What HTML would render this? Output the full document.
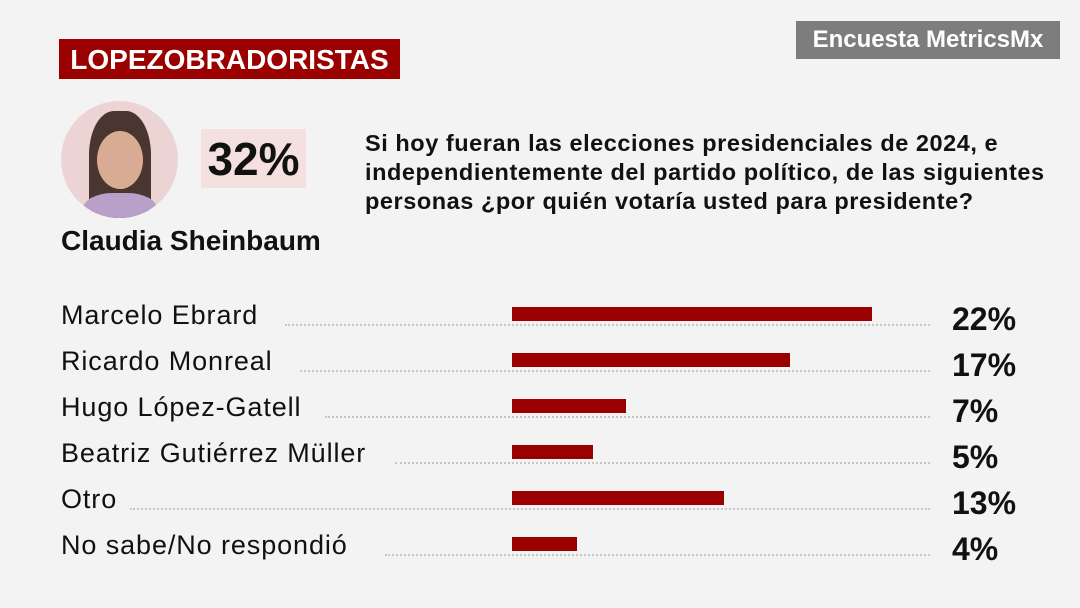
<!DOCTYPE html>
<html><head><meta charset="utf-8"><style>
body{margin:0;width:1080px;height:608px;background:#f3f3f3;position:relative;overflow:hidden;font-family:"Liberation Sans",sans-serif;color:#111}
.a{position:absolute}
.lbl{position:absolute;left:61px;font-size:27px;line-height:30px;letter-spacing:0.9px}
.dot{position:absolute;height:0;border-top:2px dotted #c8c8c8;right:150px}
.bar{position:absolute;left:512px;height:14px;background:#9b0000}
.pct{position:absolute;left:952px;font-size:32px;font-weight:bold;line-height:34px}
</style></head><body>
<div class="a" style="left:796px;top:21px;width:264px;height:38px;background:#7d7d7d;color:#fff;font-weight:bold;font-size:24px;line-height:38px;text-align:center">Encuesta MetricsMx</div>
<div class="a" style="left:59px;top:39px;width:341px;height:40px;background:#9b0000;color:#fff;font-weight:bold;font-size:28px;line-height:41px;text-align:center">LOPEZOBRADORISTAS</div>
<div class="a" style="left:61px;top:101px;width:117px;height:117px;border-radius:50%;background:#ecd4d4;overflow:hidden">
<div class="a" style="left:28px;top:10px;width:62px;height:110px;border-radius:40% 40% 20% 20%;background:#4a3630"></div>
<div class="a" style="left:36px;top:30px;width:46px;height:58px;border-radius:50%;background:#d9ab92"></div>
<div class="a" style="left:22px;top:92px;width:74px;height:40px;border-radius:40% 40% 0 0;background:#b8a0c8"></div>
</div>
<div class="a" style="left:201px;top:129px;width:105px;height:59px;background:#f5e0e0;font-size:46px;font-weight:bold;line-height:60px;text-align:center">32%</div>
<div class="a" style="left:61px;top:224px;font-size:28px;font-weight:bold;line-height:34px">Claudia Sheinbaum</div>
<div class="a" style="left:365px;top:129px;font-size:23.5px;font-weight:bold;line-height:29px;width:715px;letter-spacing:0.55px">Si hoy fueran las elecciones presidenciales de 2024, e<br>independientemente del partido político, de las siguientes<br>personas ¿por quién votaría usted para presidente?</div>

<div class="lbl" style="top:300px">Marcelo Ebrard</div><div class="dot" style="left:285px;top:324px"></div><div class="bar" style="top:307px;width:360px"></div><div class="pct" style="top:302px">22%</div>
<div class="lbl" style="top:346px">Ricardo Monreal</div><div class="dot" style="left:300px;top:370px"></div><div class="bar" style="top:353px;width:278px"></div><div class="pct" style="top:348px">17%</div>
<div class="lbl" style="top:392px">Hugo López-Gatell</div><div class="dot" style="left:325px;top:416px"></div><div class="bar" style="top:399px;width:114px"></div><div class="pct" style="top:394px">7%</div>
<div class="lbl" style="top:438px">Beatriz Gutiérrez Müller</div><div class="dot" style="left:395px;top:462px"></div><div class="bar" style="top:445px;width:81px"></div><div class="pct" style="top:440px">5%</div>
<div class="lbl" style="top:484px">Otro</div><div class="dot" style="left:130px;top:508px"></div><div class="bar" style="top:491px;width:212px"></div><div class="pct" style="top:486px">13%</div>
<div class="lbl" style="top:530px">No sabe/No respondió</div><div class="dot" style="left:385px;top:554px"></div><div class="bar" style="top:537px;width:65px"></div><div class="pct" style="top:532px">4%</div>
</body></html>
